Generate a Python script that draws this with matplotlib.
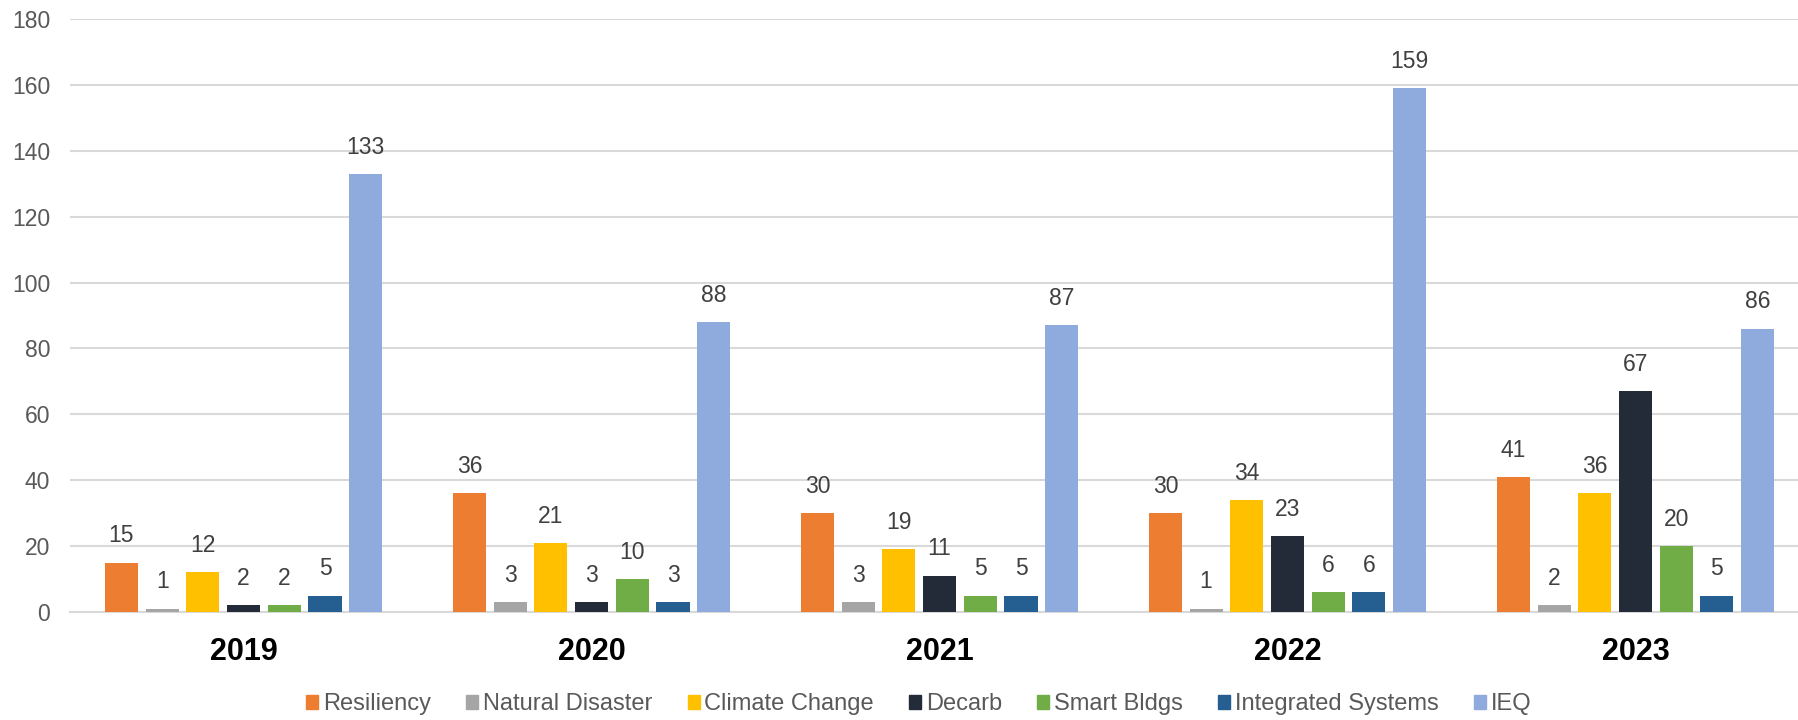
import numpy as np
import matplotlib.pyplot as plt
from matplotlib.patches import Patch

plt.rcParams['font.family'] = ['Liberation Sans', 'DejaVu Sans']

years = ['2019', '2020', '2021', '2022', '2023']
series = ['Resiliency', 'Natural Disaster', 'Climate Change', 'Decarb',
          'Smart Bldgs', 'Integrated Systems', 'IEQ']
resiliency = [15, 36, 30, 30, 41]
natural_disaster = [1, 3, 3, 1, 2]
climate_change = [12, 21, 19, 34, 36]
decarb = [2, 3, 11, 23, 67]
smart_bldgs = [2, 10, 5, 6, 20]
integrated_systems = [5, 3, 5, 6, 5]
ieq = [133, 88, 87, 159, 86]
values = [resiliency, natural_disaster, climate_change, decarb,
          smart_bldgs, integrated_systems, ieq]
colors = ['#ED7D31', '#A5A5A5', '#FFC000', '#232B38', '#70AD47', '#255E91', '#8FAADC']

fig = plt.figure(figsize=(17.98, 7.2), dpi=100)
# axes runs a little past the right edge, like the original
ax = fig.add_axes([0.0387, 0.15, 0.9677, 0.8236])

x = np.arange(len(years))
pitch = 0.117
width = 0.095
for i, (name, vals, c) in enumerate(zip(series, values, colors)):
    pos = x + (i - 3) * pitch
    bars = ax.bar(pos, vals, width, color=c, label=name, zorder=3)
    ax.bar_label(bars, labels=[str(v) for v in vals], padding=11,
                 fontsize=16.5, color='#404040')

ax.set_xlim(-0.5, len(years) - 0.5)
ax.set_ylim(0, 180)
ax.set_yticks(np.arange(0, 181, 20))
ax.yaxis.grid(True, color='#D9D9D9', linewidth=1.5, zorder=0)
ax.set_axisbelow(True)
for s in ['top', 'right', 'left']:
    ax.spines[s].set_visible(False)
ax.spines['bottom'].set_color('#D9D9D9')
ax.spines['bottom'].set_linewidth(1.5)
ax.tick_params(axis='y', length=0, labelsize=16.5, labelcolor='#595959', pad=14)
ax.set_xticks(x)
ax.set_xticklabels(years, fontsize=22, fontweight='bold', color='black')
ax.tick_params(axis='x', length=0, pad=18)

handles = [Patch(color=c, label=n) for n, c in zip(series, colors)]
fig.legend(handles=handles, loc='center', bbox_to_anchor=(0.511, 0.022), ncol=7,
           frameon=False, fontsize=17, labelcolor='#595959',
           handlelength=0.5, handleheight=0.5, handletextpad=0.2, columnspacing=1.5)

fig.savefig('out.png', dpi=100)
